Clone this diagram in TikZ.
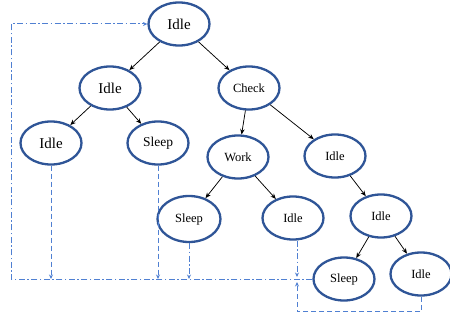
\documentclass[tikz,border=0pt]{standalone}
\usepackage{fontspec}
\setmainfont{Liberation Serif}
\usepackage{tikz}
\usetikzlibrary{shapes.geometric,arrows.meta}
\definecolor{ringblue}{RGB}{47,85,151}
\definecolor{linkblue}{RGB}{80,128,210}

\begin{document}
\begin{tikzpicture}[
  x=1pt, y=-1pt,
  state/.style={ellipse, draw=ringblue, line width=2.3pt, fill=white, minimum width=#1, minimum height=43pt, inner sep=0pt, font=\fontsize{12.5}{14}\selectfont},
  state/.default=61pt,
  big/.style={font=\fontsize{15}{17}\selectfont},
  arr/.style={-{Stealth[length=5.5pt,width=4.5pt]}, line width=0.75pt},
  tip/.style={-{Stealth[length=4.5pt,width=4pt]}},
  dd/.style={linkblue, line width=1pt, dash pattern=on 6pt off 2.5pt on 1.5pt off 2.5pt},
  ds/.style={linkblue, line width=1pt, dash pattern=on 5pt off 3pt},
]
\useasboundingbox (0,0) rectangle (450,321);
% ================= TREE =================
\node[state, big] (root) at (179,24) {Idle};
\node[state, big] (idleA) at (110,88) {Idle};
\node[state] (check) at (249,88) {Check};
\node[state, big] (idleB) at (51,143) {Idle};
\node[state, font=\fontsize{13.5}{15}\selectfont] (sleepA) at (158,143) {Sleep};
\node[state] (work) at (238,157) {Work};
\node[state] (idleC) at (335,156) {Idle};
\node[state=63pt, minimum height=46pt] (sleepB) at (189,219) {Sleep};
\node[state] (idleD) at (293,218) {Idle};
\node[state] (idleE) at (381,216) {Idle};
\node[state] (sleepC) at (344,279) {Sleep};
\node[state] (idleF) at (421,274) {Idle};
\draw[arr] (root) -- (idleA);
\draw[arr] (root) -- (check);
\draw[arr] (idleA) -- (idleB);
\draw[arr] (idleA) -- (sleepA);
\draw[arr] (check) -- (work);
\draw[arr] (check) -- (idleC);
\draw[arr] (work) -- (sleepB);
\draw[arr] (work) -- (idleD);
\draw[arr] (idleC) -- (idleE);
\draw[arr] (idleE) -- (sleepC);
\draw[arr] (idleE) -- (idleF);
% ================= RETURN PATHS =================
\coordinate (bus) at (11,279);
\coordinate (jn) at (297,279);
\draw[dd, tip] (sleepC.west) -- (bus) |- (root.west);
\draw[ds, tip] (idleB.south) -- (idleB.south |- bus);
\draw[ds, tip] (sleepA.south) -- (sleepA.south |- bus);
\draw[dd, tip] (sleepB.south) -- (sleepB.south |- bus);
\draw[dd, tip] (idleD.south -| jn) -- ([yshift=2pt]jn);
\draw[ds, tip] (idleF.south) -- ++(0,15) -| ([yshift=-3pt]jn);
\end{tikzpicture}
\end{document}
